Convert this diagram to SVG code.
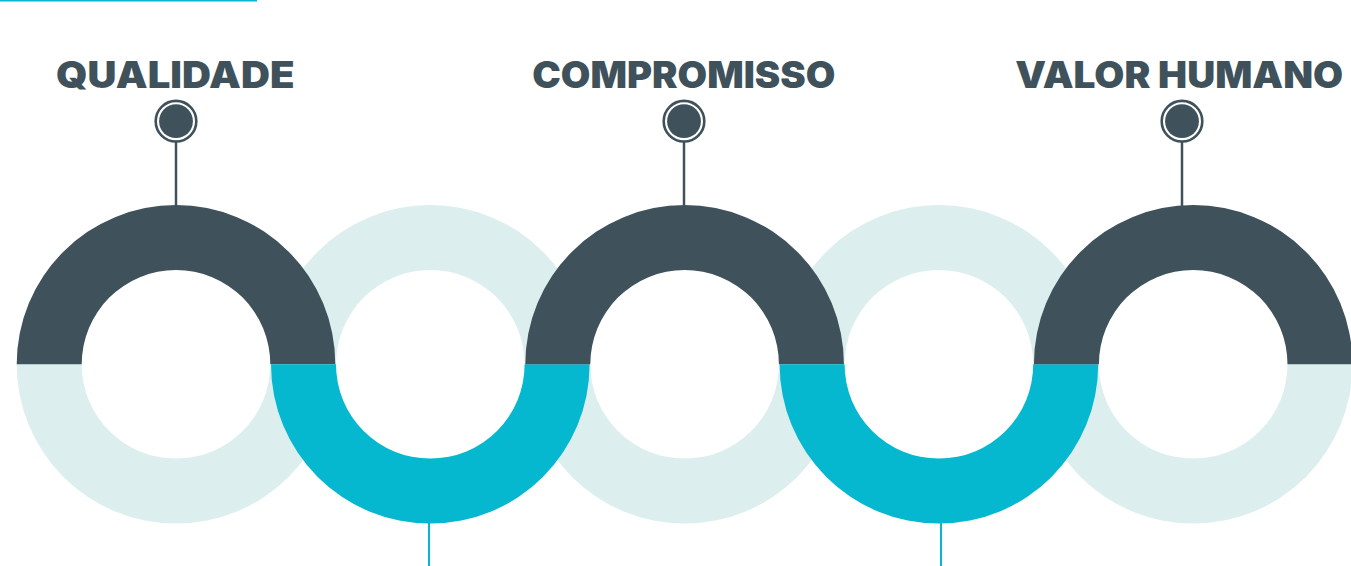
<svg xmlns="http://www.w3.org/2000/svg" xmlns:xlink="http://www.w3.org/1999/xlink" width="1351" height="566" viewBox="0 0 1351 566">
  <style>
    .dark { fill: #3F515B; }
    .cyan { fill: #05B8CF; }
    .light { fill: #DCEFEE; }
    .label { font-family: "Inter", "Open Sans", "Liberation Sans", sans-serif; font-weight: 900; font-size: 36.5px; fill: #3F515B; text-anchor: middle; }
    .pin-ring { fill: #FFFFFF; stroke: #3F515B; stroke-width: 2.6; }
    .stem { stroke: #3F515B; stroke-width: 2.5; fill: none; }
    .drop { stroke: #05B8CF; stroke-width: 2; fill: none; }
  </style>
  <defs>
    <path id="topHalf" d="M -159.3 0 A 159.3 159.3 0 0 1 159.3 0 L 94.3 0 A 94.3 94.3 0 0 0 -94.3 0 Z"/>
    <path id="bottomHalf" d="M -159.3 0 A 159.3 159.3 0 0 0 159.3 0 L 94.3 0 A 94.3 94.3 0 0 1 -94.3 0 Z"/>
  </defs>
  <rect width="1351" height="566" fill="#FFFFFF"/>
  <rect x="0" y="0" width="257" height="1.5" class="cyan"/>

  <g id="background-halves">
    <use xlink:href="#bottomHalf" class="light" transform="translate(176 364.3)"/>
    <use xlink:href="#topHalf" class="light" transform="translate(430.3 364.3)"/>
    <use xlink:href="#bottomHalf" class="light" transform="translate(684.6 364.3)"/>
    <use xlink:href="#topHalf" class="light" transform="translate(938.9 364.3)"/>
    <use xlink:href="#bottomHalf" class="light" transform="translate(1193.2 364.3)"/>
  </g>

  <g id="connectors">
    <line class="stem" x1="176" y1="142" x2="176" y2="208"/>
    <line class="stem" x1="684" y1="142" x2="684" y2="208"/>
    <line class="stem" x1="1182" y1="142" x2="1182" y2="208"/>
    <line class="drop" x1="429" y1="518" x2="429" y2="566"/>
    <line class="drop" x1="941" y1="518" x2="941" y2="566"/>
  </g>

  <g id="node-qualidade">
    <use xlink:href="#topHalf" class="dark" transform="translate(176 364.3)"/>
    <circle class="pin-ring" cx="176" cy="121.2" r="20.3"/>
    <circle class="dark" cx="176" cy="121.2" r="16.9"/>
    <text class="label" x="175.3" y="88.3" textLength="238.5" lengthAdjust="spacingAndGlyphs">QUALIDADE</text>
  </g>

  <g id="node-step2">
    <use xlink:href="#bottomHalf" class="cyan" transform="translate(430.3 364.3)"/>
  </g>

  <g id="node-compromisso">
    <use xlink:href="#topHalf" class="dark" transform="translate(684.6 364.3)"/>
    <circle class="pin-ring" cx="684" cy="121.2" r="20.3"/>
    <circle class="dark" cx="684" cy="121.2" r="16.9"/>
    <text class="label" x="683.8" y="88.3" textLength="303" lengthAdjust="spacingAndGlyphs">COMPROMISSO</text>
  </g>

  <g id="node-step4">
    <use xlink:href="#bottomHalf" class="cyan" transform="translate(938.9 364.3)"/>
  </g>

  <g id="node-valor-humano">
    <use xlink:href="#topHalf" class="dark" transform="translate(1193.2 364.3)"/>
    <circle class="pin-ring" cx="1182" cy="121.2" r="20.3"/>
    <circle class="dark" cx="1182" cy="121.2" r="16.9"/>
    <text class="label" x="1179.2" y="88.3" textLength="328" lengthAdjust="spacingAndGlyphs">VALOR HUMANO</text>
  </g>
</svg>
